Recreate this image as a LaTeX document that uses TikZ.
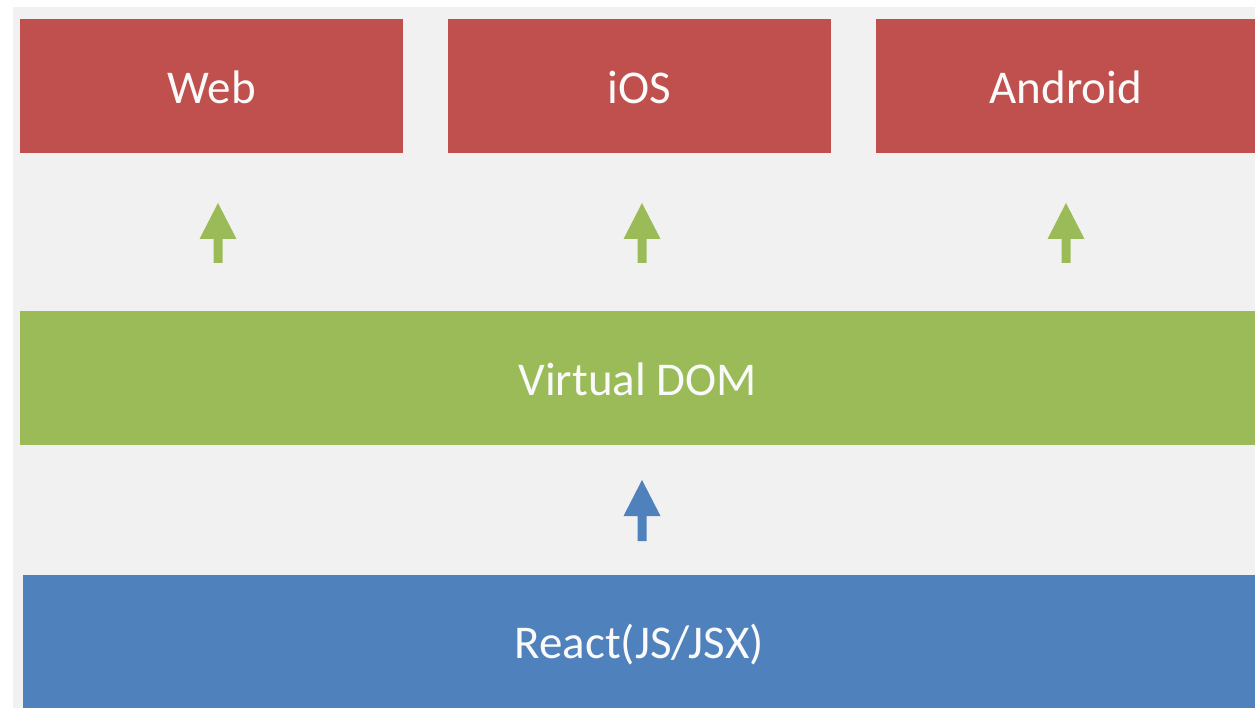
\documentclass[tikz,border=0pt]{standalone}
\usepackage{fontspec}
\setmainfont{Carlito}
\definecolor{bgc}{HTML}{F1F1F1}
\definecolor{redc}{HTML}{C0504D}
\definecolor{greenc}{HTML}{9BBB59}
\definecolor{bluec}{HTML}{4F81BD}
\definecolor{txt}{HTML}{FAFAFA}
\tikzset{
  box/.style={anchor=north west, inner sep=0pt, text=txt,
    font=\fontsize{47}{54}\selectfont, text height=34pt, text depth=0pt}
}
\newcommand{\blockup}[5]{% color, cx, tip, base, bottom
  \fill[#1] (#2-18.5,#4) -- (#2,#3) -- (#2+18.5,#4) -- (#2+4.5,#4) -- (#2+4.5,#5) -- (#2-4.5,#5) -- (#2-4.5,#4) -- cycle;}
\begin{document}
\begin{tikzpicture}[x=1pt,y=-1pt]
\useasboundingbox (0,0) rectangle (1255,708);
\fill[white] (0,0) rectangle (1255,708);
\fill[bgc] (13,7) rectangle (1255,708);
\node[box, fill=redc, minimum width=383pt, minimum height=134pt] (web) at (20,19) {Web};
\node[box, fill=redc, minimum width=383pt, minimum height=134pt] (ios) at (448,19) {iOS};
\node[box, fill=redc, minimum width=379pt, minimum height=134pt] (android) at (876,19) {Android};
\node[box, fill=greenc, minimum width=1235pt, minimum height=134pt] (vdom) at (20,311) {Virtual DOM};
\node[box, fill=bluec, minimum width=1232pt, minimum height=133pt] (react) at (23,575) {React(JS/JSX)};
\blockup{greenc}{218}{203}{239}{263}
\blockup{greenc}{642}{203}{239}{263}
\blockup{greenc}{1066}{203}{239}{263}
\blockup{bluec}{642}{480}{516}{541}
\end{tikzpicture}
\end{document}
